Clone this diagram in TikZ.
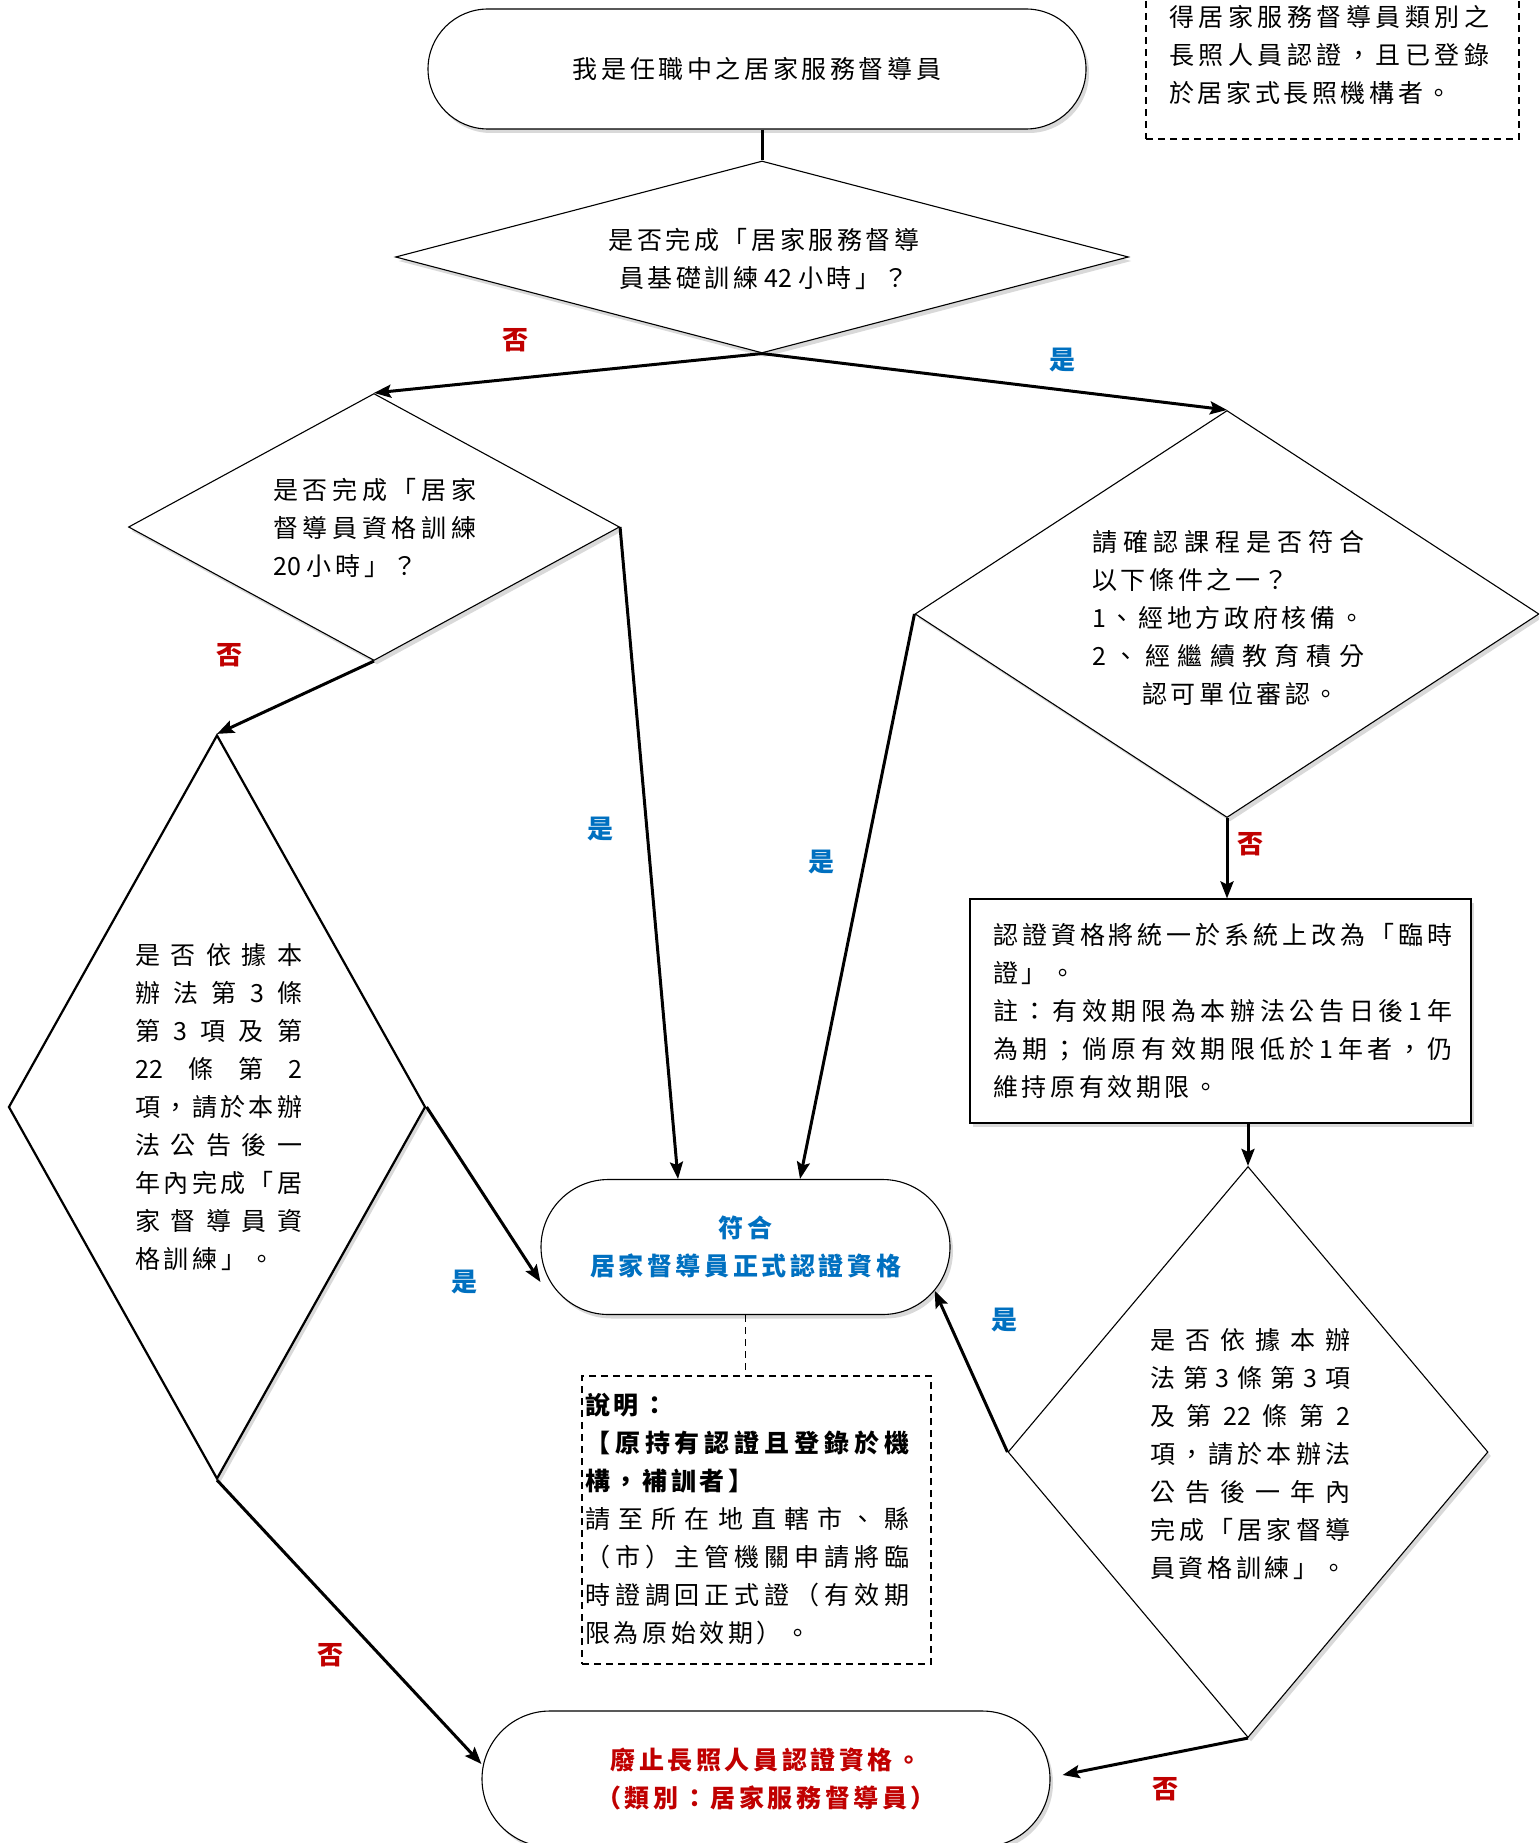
\documentclass[tikz,border=0pt]{standalone}
\usepackage{fontspec}
\setmainfont{Noto Sans CJK TC}
\newXeTeXintercharclass\mycjkcls
\makeatletter
\count@="3000
\loop\ifnum\count@<"A000 \XeTeXcharclass\count@=\mycjkcls \advance\count@\@ne\repeat
\count@="FF00
\loop\ifnum\count@<"FFF0 \XeTeXcharclass\count@=\mycjkcls \advance\count@\@ne\repeat
\makeatother
\XeTeXinterchartokenstate=1
\newcommand\cjkglue{\hskip3.6pt plus 1pt minus 1pt\relax}
\XeTeXinterchartoks\mycjkcls\mycjkcls={\cjkglue}
\XeTeXinterchartoks\mycjkcls 0={\cjkglue}
\XeTeXinterchartoks 0\mycjkcls={\cjkglue}
\usetikzlibrary{shapes.geometric,shapes.misc,arrows.meta,shadows,calc}
\definecolor{noRed}{RGB}{192,0,0}
\definecolor{yesBlue}{RGB}{0,112,192}
\newcommand\sline[2]{\makebox[#1][s]{#2}}
\newcommand\wsp{\hspace{6pt}}
\begin{document}
\begin{tikzpicture}[x=1pt,y=-1pt,
  every node/.style={font=\fontsize{25}{38}\selectfont, inner sep=0pt},
  shad/.style={drop shadow={opacity=0.3,shadow xshift=3pt,shadow yshift=-4pt}},
  term/.style={rounded rectangle, draw, line width=1.1pt, fill=white, shad},
  dia/.style={diamond, draw, line width=1.1pt, fill=white, shad},
  rbox/.style={rectangle, draw, line width=1.1pt, fill=white, shad},
  dbox/.style={rectangle, draw, dash pattern=on 7pt off 5pt, line width=1.6pt},
  dline/.style={draw, dash pattern=on 7pt off 5pt, line width=1.6pt},
  plain/.style={line width=3pt},
  conn/.style={line width=3pt, -{Stealth[length=17pt,width=13pt,inset=3pt]}},
  yeslab/.style={text=yesBlue, font=\fontsize{26}{30}\selectfont\bfseries},
  nolab/.style={text=noRed, font=\fontsize{26}{30}\selectfont\bfseries},
  txt/.style={align=left, anchor=west}
]
\path[use as bounding box] (0,0) rectangle (1539,1843);
\clip (0,0) rectangle (1539,1843);

% top-right dashed note
\node[dbox, minimum width=373pt, minimum height=200pt] (tr) at (1332.5,39) {};
\node[txt] (trt) at (1169,55) {\sline{320pt}{得居家服務督導員類別之}\\\sline{320pt}{長照人員認證，且已登錄}\\於居家式長照機構者。};

% start
\node[term, minimum width=658pt, minimum height=120pt] (t) at (757,69) {我是任職中之居家服務督導員};

% diamond 1
\node[dia, minimum width=733pt, minimum height=192pt] (d1) at (762,257) {};
\node[align=center] (d1t) at (764,259) {是否完成「居家服務督導\\員基礎訓練\wsp 42\wsp 小時」？};

% diamond 2
\node[dia, minimum width=491pt, minimum height=267pt] (d2) at (374,527) {};
\node[txt] (d2t) at (273,528) {\sline{203pt}{是否完成「居家}\\\sline{203pt}{督導員資格訓練}\\20\wsp 小時」？};

% diamond 3
\node[dia, line width=2.2pt, minimum width=417pt, minimum height=744pt] (d3) at (217,1107) {};
\node[txt] (d3t) at (135,1107) {\sline{167pt}{是否依據本}\\\sline{167pt}{辦法第3條}\\\sline{167pt}{第3項及第}\\\sline{167pt}{22條第2}\\\sline{167pt}{項，請於本辦}\\\sline{167pt}{法公告後一}\\\sline{167pt}{年內完成「居}\\\sline{167pt}{家督導員資}\\格訓練」。};

% diamond 4
\node[dia, minimum width=624pt, minimum height=407pt] (d4) at (1227,614) {};
\node[txt] (d4t) at (1092,618) {\sline{272pt}{請確認課程是否符合}\\以下條件之一？\\\sline{272pt}{1、經地方政府核備。}\\\sline{272pt}{2、經繼續教育積分}\\\hspace*{50pt}認可單位審認。};

% rectangle
\node[rbox, minimum width=501pt, minimum height=224pt] (r) at (1220.5,1011) {};
\node[txt] (rt) at (993,1011) {\sline{459pt}{認證資格將統一於系統上改為「臨時}\\證」。\\\sline{459pt}{註：有效期限為本辦法公告日後1年}\\\sline{459pt}{為期；倘原有效期限低於1年者，仍}\\維持原有效期限。};

% diamond 5
\node[dia, minimum width=480pt, minimum height=571pt] (d5) at (1248,1452) {};
\node[txt] (d5t) at (1150,1454) {\sline{200pt}{是否依據本辦}\\\sline{200pt}{法第3條第3項}\\\sline{200pt}{及第22條第2}\\\sline{200pt}{項，請於本辦法}\\\sline{200pt}{公告後一年內}\\\sline{200pt}{完成「居家督導}\\員資格訓練」。};

% middle terminator
\node[term, minimum width=409pt, minimum height=135pt, text=yesBlue, font=\fontsize{25}{38}\selectfont\bfseries, align=center] (m) at (745.5,1247) {符合\\居家督導員正式認證資格};

% bottom terminator
\node[term, minimum width=568pt, minimum height=136pt, text=noRed, font=\fontsize{25}{38}\selectfont\bfseries, align=center] (b) at (766,1779) {廢止長照人員認證資格。\\（類別：居家服務督導員）};

% explanation box
\node[dbox, minimum width=349pt, minimum height=288pt] (n) at (756.5,1520) {};
\node[txt] (nt) at (585,1519) {{\bfseries 說明：}\\\sline{324pt}{\bfseries 【原持有認證且登錄於機}\\{\bfseries 構，補訓者】}\\\sline{324pt}{請至所在地直轄市、縣}\\\sline{324pt}{（市）主管機關申請將臨}\\\sline{324pt}{時證調回正式證（有效期}\\限為原始效期）。};

% connectors
\draw[plain] (t.south -| d1.north) -- (d1.north);
\draw[conn] (d1.south) -- (d2.north);
\draw[conn] (d1.south) -- (d4.north);
\draw[conn] (d2.east) -- ($(m.north)+(-67.5,0)$);
\draw[conn] (d2.south) -- (d3.north);
\draw[conn] (d3.east) -- ($(m.west)+(0,35)$);
\draw[conn] (d3.south) -- ($(b.west)+(0,-15)$);
\draw[conn] (d4.west) -- ($(m.north)+(54.5,0)$);
\draw[conn] (d4.south) -- (d4.south |- r.north);
\draw[conn] (r.south -| d5.north) -- (d5.north);
\draw[conn] (d5.west) -- (m.-13);
\draw[conn] (d5.south) -- ($(b.east)+(12,-4)$);
\draw[dline] (m.south) -- (m.south |- n.north);

% labels
\node[nolab] (l1) at (515,340) {否};
\node[yeslab] (l2) at (1062,360) {是};
\node[nolab] (l3) at (229,655) {否};
\node[yeslab] (l4) at (600,829) {是};
\node[yeslab] (l5) at (821,862) {是};
\node[nolab] (l6) at (1250,844) {否};
\node[yeslab] (l7) at (464,1282) {是};
\node[yeslab] (l8) at (1004,1320) {是};
\node[nolab] (l9) at (330,1655) {否};
\node[nolab] (l10) at (1165,1789) {否};
\end{tikzpicture}
\end{document}
